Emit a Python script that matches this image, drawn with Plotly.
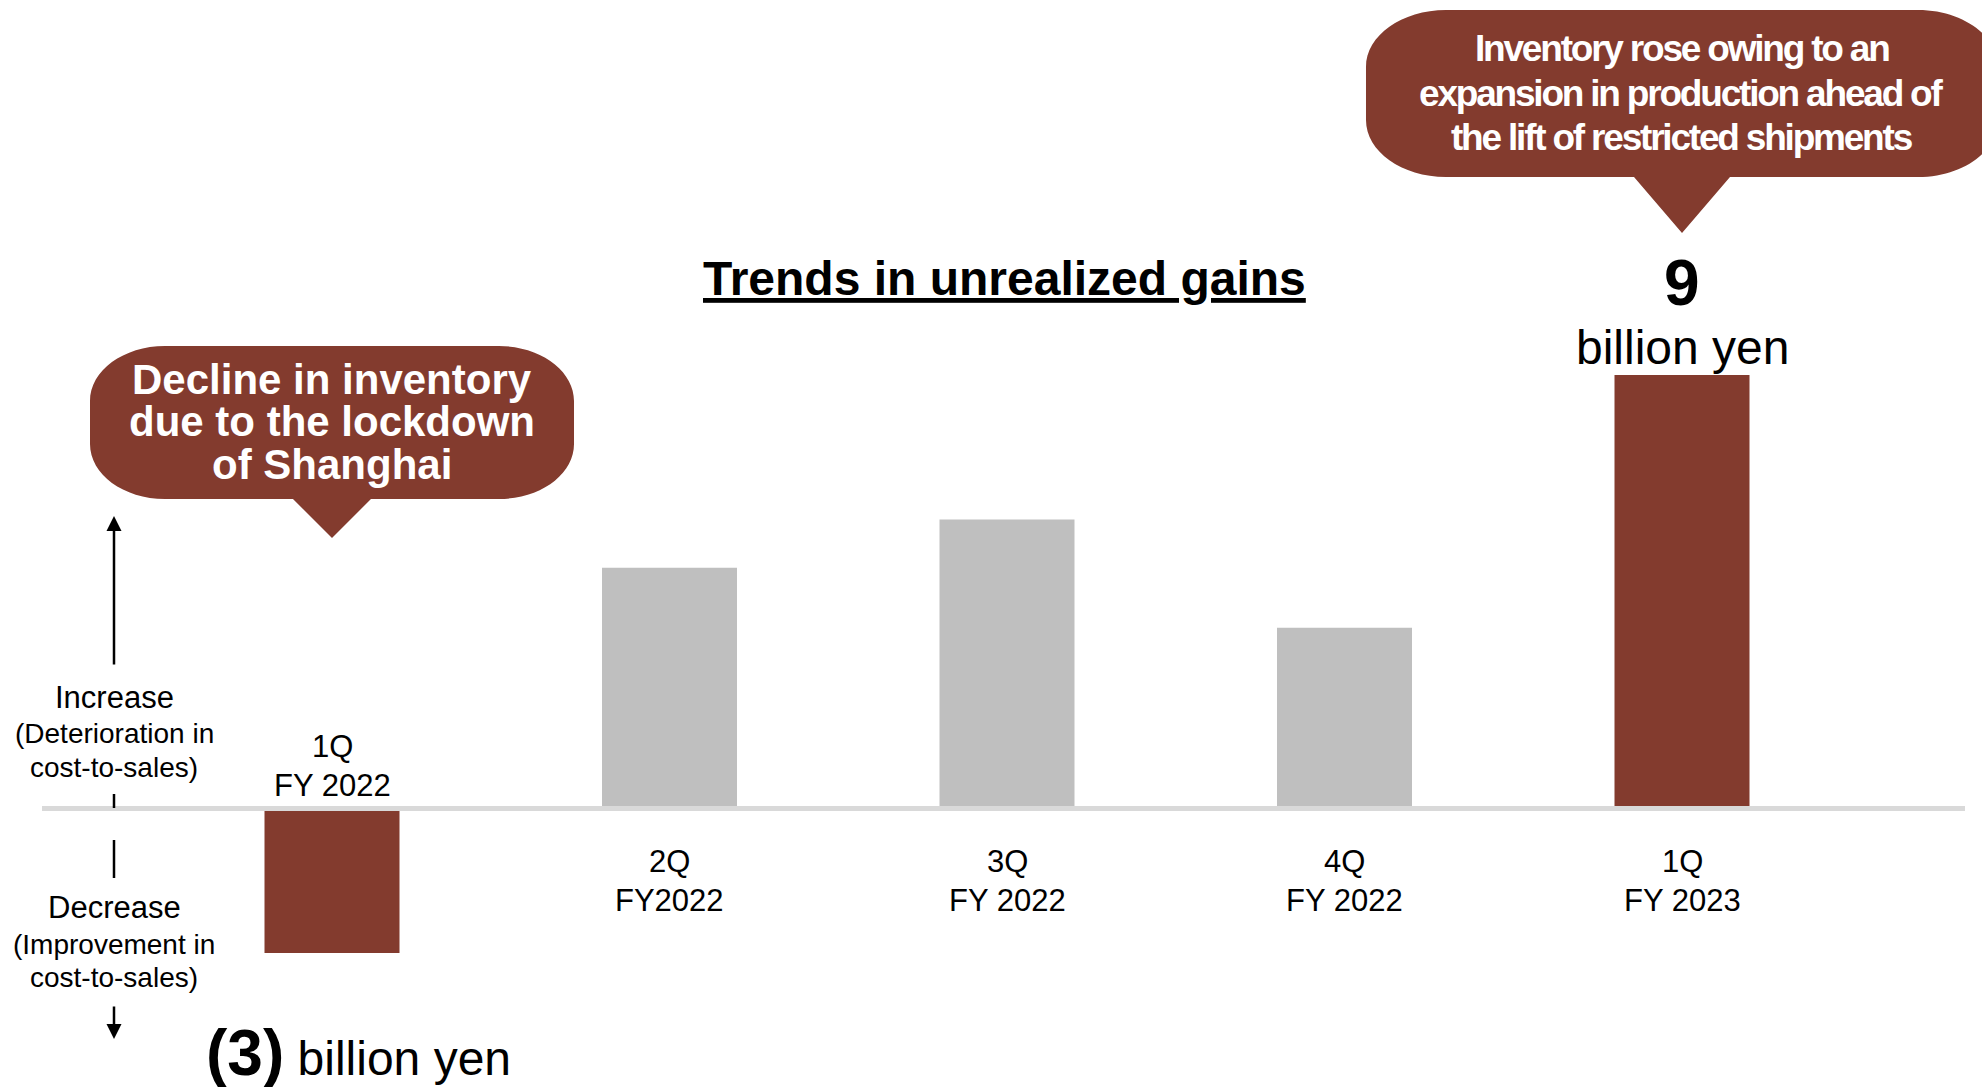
import plotly.graph_objects as go

# ---- data ----
quarters = ["1Q", "2Q", "3Q", "4Q", "1Q"]
fiscal_years = ["FY 2022", "FY2022", "FY 2022", "FY 2022", "FY 2023"]
values = [-3, 5, 6, 3.75, 9]
highlight = [True, False, False, False, True]
value_unit = "billion yen"

chart_title = "Trends in unrealized gains"
note_left = ["Decline in inventory", "due to the lockdown", "of Shanghai"]
note_right = ["Inventory rose owing to an", "expansion in production ahead of",
              "the lift of restricted shipments"]
axis_up = ["Increase", "(Deterioration in", "cost-to-sales)"]
axis_down = ["Decrease", "(Improvement in", "cost-to-sales)"]

# ---- styling ----
W, H = 1982, 1087
BROWN = "#833B2E"
GRAY = "#BFBFBF"
BASELINE = "#D9D9D9"
FONT = "Liberation Sans, Arial, sans-serif"

X_RANGE = [-0.9837, 4.8889]
Y_RANGE = [-5.782, 16.785]


def px(x):
    return x / W


def py(y):
    return 1 - y / H


def bar_px(i):
    return (i - X_RANGE[0]) / (X_RANGE[1] - X_RANGE[0]) * W


def fmt(v):
    return f"({abs(v):g})" if v < 0 else f"{v:g}"


def bubble_path(cx, half_w, top, bottom, rx, ry, base_half, tip_y):
    """Rounded callout with a downward pointer, given in pixels."""
    k = 0.5523
    x0, x1, y0, y1 = cx - half_w, cx + half_w, top, bottom
    pts = [
        ("M", [(x0 + rx, y0)]),
        ("L", [(x1 - rx, y0)]),
        ("C", [(x1 - rx + k * rx, y0), (x1, y0 + ry - k * ry), (x1, y0 + ry)]),
        ("L", [(x1, y1 - ry)]),
        ("C", [(x1, y1 - ry + k * ry), (x1 - rx + k * rx, y1), (x1 - rx, y1)]),
        ("L", [(cx + base_half, y1)]),
        ("L", [(cx, tip_y)]),
        ("L", [(cx - base_half, y1)]),
        ("L", [(x0 + rx, y1)]),
        ("C", [(x0 + rx - k * rx, y1), (x0, y1 - ry + k * ry), (x0, y1 - ry)]),
        ("L", [(x0, y0 + ry)]),
        ("C", [(x0, y0 + ry - k * ry), (x0 + rx - k * rx, y0), (x0 + rx, y0)]),
    ]
    out = []
    for cmd, coords in pts:
        out.append(cmd + " " + " ".join(f"{px(a):.5f},{py(b):.5f}" for a, b in coords))
    return " ".join(out) + " Z"


def label(x, y, text, size, color="black", family=FONT, **kw):
    d = dict(x=x, y=y, xref="paper", yref="paper", text=text, showarrow=False,
             xanchor="center", yanchor="middle",
             font=dict(family=family, size=size, color=color))
    d.update(kw)
    return d


fig = go.Figure()
fig.add_trace(go.Bar(
    x=list(range(len(values))),
    y=values,
    width=0.4,
    marker=dict(color=[BROWN if h else GRAY for h in highlight], line=dict(width=0)),
    hoverinfo="skip",
))

shapes = []
annotations = []

# zero line
shapes.append(dict(type="line", xref="paper", yref="y", x0=px(42), x1=px(1965),
                   y0=0, y1=0, line=dict(color=BASELINE, width=5), layer="above"))

# category labels, on the side opposite the bar
for i, (q, fy, v) in enumerate(zip(quarters, fiscal_years, values)):
    shifts = (61.5, 22.5) if v < 0 else (-53.5, -92.5)
    for txt, sh in zip((q, fy), shifts):
        annotations.append(dict(x=i, y=0, xref="x", yref="y", text=txt, showarrow=False,
                                xanchor="center", yanchor="middle", yshift=sh,
                                font=dict(family=FONT, size=31, color="black")))

# value labels for the highlighted bars
for i, (v, h) in enumerate(zip(values, highlight)):
    if not h:
        continue
    if v >= 0:
        annotations.append(dict(x=i, y=v, xref="x", yref="y", text=f"<b>{fmt(v)}</b>",
                                showarrow=False, xanchor="center", yanchor="middle", yshift=92,
                                font=dict(family=FONT, size=64, color="black")))
        annotations.append(dict(x=i, y=v, xref="x", yref="y", text=value_unit,
                                showarrow=False, xanchor="center", yanchor="middle", yshift=27,
                                font=dict(family=FONT, size=48, color="black")))
    else:
        annotations.append(dict(x=i, y=v, xref="x", yref="y",
                                text=f"<span style='font-size:64px'><b>{fmt(v)}</b></span> {value_unit}",
                                showarrow=False, xanchor="left", yanchor="middle",
                                xshift=-128, yshift=-100,
                                font=dict(family=FONT, size=48, color="black")))

# title
annotations.append(label(px(1005), py(278), f"<b>{chart_title}</b>", 48,
                         font=dict(family=FONT, size=48, color="black", lineposition="under")))

# callouts
left_cx = bar_px(0)
shapes.append(dict(type="path", xref="paper", yref="paper", layer="above",
                   path=bubble_path(left_cx, 242, 346, 499, 75, 55, 39, 538),
                   fillcolor=BROWN, line=dict(width=0)))
for txt, yc in zip(note_left, (379, 422, 465)):
    annotations.append(label(px(left_cx), py(yc), f"<b>{txt}</b>", 42, color="white"))

right_cx = bar_px(4)
shapes.append(dict(type="path", xref="paper", yref="paper", layer="above",
                   path=bubble_path(right_cx, 316, 10, 177, 80, 57, 48, 233),
                   fillcolor=BROWN, line=dict(width=0)))
for txt, yc in zip(note_right, (48, 93.5, 138)):
    annotations.append(label(px(right_cx), py(yc),
                             f"<span style='letter-spacing:-2.2px'><b>{txt}</b></span>",
                             37, color="white"))

# direction legend on the left
AX = 114
for txt, yc, sz in zip(axis_up, (697, 733, 767), (31, 28, 28)):
    annotations.append(label(px(AX), py(yc), txt, sz))
for txt, yc, sz in zip(axis_down, (907, 944, 977), (31, 28, 28)):
    annotations.append(label(px(AX), py(yc), txt, sz))

annotations.append(dict(x=px(AX), y=py(516), xref="paper", yref="paper", text="",
                        showarrow=True, ax=0, ay=150, arrowhead=2, arrowsize=1.2,
                        arrowwidth=2.5, arrowcolor="black", standoff=0))
annotations.append(dict(x=px(AX), y=py(1039), xref="paper", yref="paper", text="",
                        showarrow=True, ax=0, ay=-34, arrowhead=2, arrowsize=1.2,
                        arrowwidth=2.5, arrowcolor="black", standoff=0))
for y0, y1 in ((794, 808), (840, 878)):
    shapes.append(dict(type="line", xref="paper", yref="paper", x0=px(AX), x1=px(AX),
                       y0=py(y0), y1=py(y1), line=dict(color="black", width=2.5)))

fig.update_layout(
    width=W, height=H,
    margin=dict(l=0, r=0, t=0, b=0),
    paper_bgcolor="white", plot_bgcolor="white",
    showlegend=False,
    xaxis=dict(range=X_RANGE, visible=False, fixedrange=True),
    yaxis=dict(range=Y_RANGE, visible=False, fixedrange=True),
    shapes=shapes,
    annotations=annotations,
)

fig.write_html("out.html", config={"displayModeBar": False})
